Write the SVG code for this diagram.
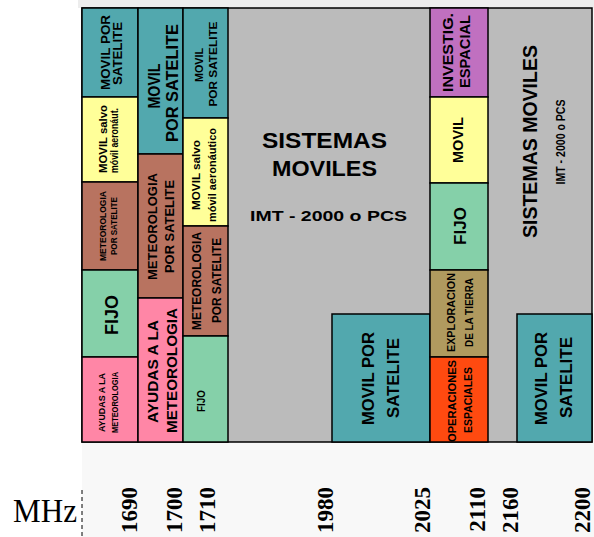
<svg xmlns="http://www.w3.org/2000/svg" width="594" height="537" viewBox="0 0 594 537">
  <style>
    .cell { stroke: #000; stroke-width: 1.5; }
    .grey { fill: #bbbbbb; }
    .teal { fill: #52a8ae; }
    .yel { fill: #ffff99; }
    .brn { fill: #b87360; }
    .grn { fill: #85d0a9; }
    .pnk { fill: #ff86a6; }
    .pur { fill: #c070c0; }
    .kha { fill: #b09a5f; }
    .org { fill: #ff4a10; }
    .t { font-family: "Liberation Sans", Arial, sans-serif; font-weight: bold; fill: #000; text-anchor: middle; }
    .n { font-family: "Liberation Serif", "Times New Roman", serif; font-weight: bold; font-size: 23px; fill: #000; text-anchor: end; }
  </style>

  <!-- page tint behind the chart -->
  <rect x="0" y="0" width="594" height="537" fill="#ffffff"/>
  <rect x="82" y="0" width="512" height="537" fill="#f8f8f8"/>
  <rect x="78" y="0" width="516" height="8" fill="#ededed"/>

  <!-- grey band plan frame (mobile systems background) -->
  <g id="frame">
    <rect class="cell grey" x="82" y="8" width="510" height="434" stroke-width="2"/>
    <text class="t" x="324.5" y="148" font-size="22" textLength="125" lengthAdjust="spacingAndGlyphs">SISTEMAS</text>
    <text class="t" x="324.5" y="176" font-size="22" textLength="105" lengthAdjust="spacingAndGlyphs">MOVILES</text>
    <text class="t" x="328.5" y="221" font-size="15" textLength="157" lengthAdjust="spacingAndGlyphs">IMT - 2000 o PCS</text>
    <text class="t" transform="translate(537,141.5) rotate(-90)" font-size="20.5" textLength="193" lengthAdjust="spacingAndGlyphs">SISTEMAS MOVILES</text>
    <text class="t" transform="translate(565,142) rotate(-90)" font-size="13" textLength="85" lengthAdjust="spacingAndGlyphs">IMT - 2000 o PCS</text>
  </g>

  <!-- column 1690-1700 MHz -->
  <g id="c1-movil-satelite">
    <rect class="cell teal" x="82" y="8" width="56" height="89"/>
    <text class="t" transform="translate(110,52.5) rotate(-90)" font-size="13.5" textLength="75" lengthAdjust="spacingAndGlyphs">MOVIL POR</text>
    <text class="t" transform="translate(122,53.5) rotate(-90)" font-size="13.5" textLength="63" lengthAdjust="spacingAndGlyphs">SATELITE</text>
  </g>
  <g id="c1-movil-salvo">
    <rect class="cell yel" x="82" y="97" width="56" height="85"/>
    <text class="t" transform="translate(107,139) rotate(-90)" font-size="11" textLength="68" lengthAdjust="spacingAndGlyphs">MOVIL salvo</text>
    <text class="t" transform="translate(118,140.5) rotate(-90)" font-size="11" textLength="65" lengthAdjust="spacingAndGlyphs">móvil aeronáut.</text>
  </g>
  <g id="c1-meteo-satelite">
    <rect class="cell brn" x="82" y="182" width="56" height="88"/>
    <text class="t" transform="translate(106,226) rotate(-90)" font-size="9" textLength="70" lengthAdjust="spacingAndGlyphs">METEOROLOGIA</text>
    <text class="t" transform="translate(116.5,226) rotate(-90)" font-size="9" textLength="58" lengthAdjust="spacingAndGlyphs">POR SATELITE</text>
  </g>
  <g id="c1-fijo">
    <rect class="cell grn" x="82" y="270" width="56" height="87"/>
    <text class="t" transform="translate(118,315) rotate(-90)" font-size="19" textLength="40" lengthAdjust="spacingAndGlyphs">FIJO</text>
  </g>
  <g id="c1-ayudas">
    <rect class="cell pnk" x="82" y="357" width="56" height="85"/>
    <text class="t" transform="translate(104.5,402.5) rotate(-90)" font-size="9" textLength="59" lengthAdjust="spacingAndGlyphs">AYUDAS A LA</text>
    <text class="t" transform="translate(117.5,402.5) rotate(-90)" font-size="9" textLength="61" lengthAdjust="spacingAndGlyphs">METEOROLOGIA</text>
  </g>

  <!-- column 1700-1710 MHz -->
  <g id="c2-movil-satelite">
    <rect class="cell teal" x="138" y="8" width="45" height="146"/>
    <text class="t" transform="translate(160,86) rotate(-90)" font-size="17" textLength="45" lengthAdjust="spacingAndGlyphs">MOVIL</text>
    <text class="t" transform="translate(178,83) rotate(-90)" font-size="17" textLength="118" lengthAdjust="spacingAndGlyphs">POR SATELITE</text>
  </g>
  <g id="c2-meteo-satelite">
    <rect class="cell brn" x="138" y="154" width="45" height="144"/>
    <text class="t" transform="translate(157,226.5) rotate(-90)" font-size="13" textLength="107" lengthAdjust="spacingAndGlyphs">METEOROLOGIA</text>
    <text class="t" transform="translate(174,226.5) rotate(-90)" font-size="13" textLength="93" lengthAdjust="spacingAndGlyphs">POR SATELITE</text>
  </g>
  <g id="c2-ayudas">
    <rect class="cell pnk" x="138" y="298" width="45" height="144"/>
    <text class="t" transform="translate(158,371.5) rotate(-90)" font-size="15.5" textLength="103" lengthAdjust="spacingAndGlyphs">AYUDAS A LA</text>
    <text class="t" transform="translate(177,370.5) rotate(-90)" font-size="15.5" textLength="125" lengthAdjust="spacingAndGlyphs">METEOROLOGIA</text>
  </g>

  <!-- column 1710 MHz upward -->
  <g id="c3-movil-satelite">
    <rect class="cell teal" x="183" y="8" width="45" height="110"/>
    <text class="t" transform="translate(203,65) rotate(-90)" font-size="11.5" textLength="34" lengthAdjust="spacingAndGlyphs">MOVIL</text>
    <text class="t" transform="translate(217,64) rotate(-90)" font-size="11.5" textLength="85" lengthAdjust="spacingAndGlyphs">POR SATELITE</text>
  </g>
  <g id="c3-movil-salvo">
    <rect class="cell yel" x="183" y="118" width="45" height="108"/>
    <text class="t" transform="translate(200,175) rotate(-90)" font-size="11" textLength="70" lengthAdjust="spacingAndGlyphs">MOVIL salvo</text>
    <text class="t" transform="translate(216,175) rotate(-90)" font-size="11" textLength="94" lengthAdjust="spacingAndGlyphs">móvil aeronáutico</text>
  </g>
  <g id="c3-meteo-satelite">
    <rect class="cell brn" x="183" y="226" width="45" height="110"/>
    <text class="t" transform="translate(201,281) rotate(-90)" font-size="12" textLength="98" lengthAdjust="spacingAndGlyphs">METEOROLOGIA</text>
    <text class="t" transform="translate(221,280.5) rotate(-90)" font-size="12" textLength="85" lengthAdjust="spacingAndGlyphs">POR SATELITE</text>
  </g>
  <g id="c3-fijo">
    <rect class="cell grn" x="183" y="336" width="45" height="106"/>
    <text class="t" transform="translate(205,401) rotate(-90)" font-size="10" textLength="22" lengthAdjust="spacingAndGlyphs">FIJO</text>
  </g>

  <!-- 1980-2025 MHz satellite band -->
  <g id="movil-satelite-1980">
    <rect class="cell teal" x="332" y="314" width="98" height="128"/>
    <text class="t" transform="translate(374,378.5) rotate(-90)" font-size="16.5" textLength="93" lengthAdjust="spacingAndGlyphs">MOVIL POR</text>
    <text class="t" transform="translate(399,378) rotate(-90)" font-size="16.5" textLength="80" lengthAdjust="spacingAndGlyphs">SATELITE</text>
  </g>

  <!-- column 2025-2110 MHz -->
  <g id="c5-investig">
    <rect class="cell pur" x="430" y="8" width="58" height="89"/>
    <text class="t" transform="translate(453,52.5) rotate(-90)" font-size="15.5" textLength="79" lengthAdjust="spacingAndGlyphs">INVESTIG.</text>
    <text class="t" transform="translate(470,51.5) rotate(-90)" font-size="15.5" textLength="73" lengthAdjust="spacingAndGlyphs">ESPACIAL</text>
  </g>
  <g id="c5-movil">
    <rect class="cell yel" x="430" y="97" width="58" height="86"/>
    <text class="t" transform="translate(463,140) rotate(-90)" font-size="14" textLength="46" lengthAdjust="spacingAndGlyphs">MOVIL</text>
  </g>
  <g id="c5-fijo">
    <rect class="cell grn" x="430" y="183" width="58" height="87"/>
    <text class="t" transform="translate(466,226) rotate(-90)" font-size="17" textLength="38" lengthAdjust="spacingAndGlyphs">FIJO</text>
  </g>
  <g id="c5-exploracion">
    <rect class="cell kha" x="430" y="270" width="58" height="87"/>
    <text class="t" transform="translate(455,312.5) rotate(-90)" font-size="10.5" textLength="79" lengthAdjust="spacingAndGlyphs">EXPLORACION</text>
    <text class="t" transform="translate(473,312.5) rotate(-90)" font-size="10.5" textLength="69" lengthAdjust="spacingAndGlyphs">DE LA TIERRA</text>
  </g>
  <g id="c5-operaciones">
    <rect class="cell org" x="430" y="357" width="58" height="85"/>
    <text class="t" transform="translate(456,401) rotate(-90)" font-size="10.5" textLength="82" lengthAdjust="spacingAndGlyphs">OPERACIONES</text>
    <text class="t" transform="translate(472,400) rotate(-90)" font-size="10.5" textLength="66" lengthAdjust="spacingAndGlyphs">ESPACIALES</text>
  </g>

  <!-- 2160-2200 MHz satellite band -->
  <g id="movil-satelite-2160">
    <rect class="cell teal" x="517" y="314" width="75" height="128"/>
    <text class="t" transform="translate(547,378.5) rotate(-90)" font-size="16.5" textLength="93" lengthAdjust="spacingAndGlyphs">MOVIL POR</text>
    <text class="t" transform="translate(572,377.5) rotate(-90)" font-size="16.5" textLength="81" lengthAdjust="spacingAndGlyphs">SATELITE</text>
  </g>

  <!-- frequency axis -->
  <g id="axis">
    <line x1="82" y1="490" x2="82" y2="537" stroke="#000" stroke-width="1" stroke-dasharray="4 3"/>
    <text x="13" y="522" font-family="'Liberation Serif', 'Times New Roman', serif" font-size="34" fill="#000" textLength="64" lengthAdjust="spacingAndGlyphs">MHz</text>
    <text class="n" transform="translate(137,487) rotate(-90)">1690</text>
    <text class="n" transform="translate(182,487) rotate(-90)">1700</text>
    <text class="n" transform="translate(215,487) rotate(-90)">1710</text>
    <text class="n" transform="translate(333,487) rotate(-90)">1980</text>
    <text class="n" transform="translate(430,487) rotate(-90)">2025</text>
    <text class="n" transform="translate(485,487) rotate(-90)">2110</text>
    <text class="n" transform="translate(518,487) rotate(-90)">2160</text>
    <text class="n" transform="translate(590,487) rotate(-90)">2200</text>
  </g>
</svg>
